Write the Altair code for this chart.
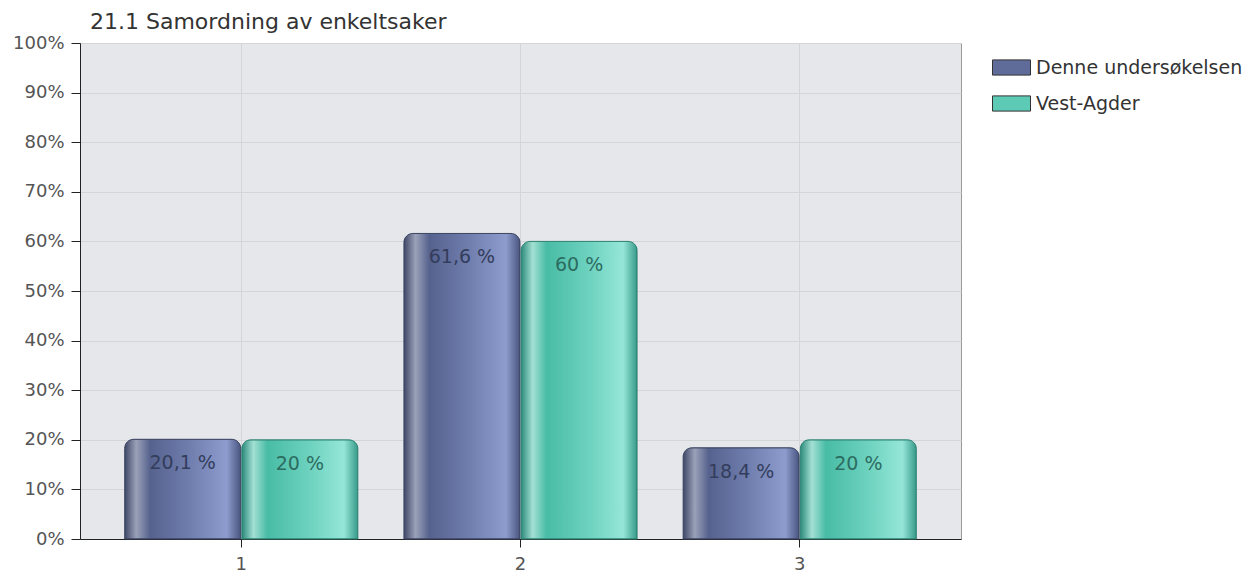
import altair as alt
import pandas as pd

categories = ["1", "2", "3"]
series_names = ["Denne undersøkelsen", "Vest-Agder"]
denne_values = [20.1, 61.6, 18.4]
vest_values = [20.0, 60.0, 20.0]
y_ticks = [0, 10, 20, 30, 40, 50, 60, 70, 80, 90, 100]

rows = []
for c, v in zip(categories, denne_values):
    rows.append({"kategori": c, "serie": series_names[0], "verdi": v})
for c, v in zip(categories, vest_values):
    rows.append({"kategori": c, "serie": series_names[1], "verdi": v})
df = pd.DataFrame(rows)

FONT = "DejaVu Sans"

blue_grad = alt.Gradient(
    gradient="linear", x1=0, x2=1, y1=0, y2=0,
    stops=[
        alt.GradientStop(color="#3f4868", offset=0.0),
        alt.GradientStop(color="#9aa1b8", offset=0.1),
        alt.GradientStop(color="#56628e", offset=0.22),
        alt.GradientStop(color="#6f7dad", offset=0.55),
        alt.GradientStop(color="#8d9ccd", offset=0.88),
        alt.GradientStop(color="#4a5580", offset=1.0),
    ],
)
green_grad = alt.Gradient(
    gradient="linear", x1=0, x2=1, y1=0, y2=0,
    stops=[
        alt.GradientStop(color="#2b8a7a", offset=0.0),
        alt.GradientStop(color="#a3e0d4", offset=0.1),
        alt.GradientStop(color="#48bca6", offset=0.22),
        alt.GradientStop(color="#6fd3c0", offset=0.6),
        alt.GradientStop(color="#95e6d8", offset=0.88),
        alt.GradientStop(color="#389a89", offset=1.0),
    ],
)

x_enc = alt.X(
    "kategori:N",
    sort=categories,
    scale=alt.Scale(paddingInner=0.165, paddingOuter=0.16),
    axis=alt.Axis(
        title=None, labelAngle=0, grid=True, bandPosition=0.5,
        gridColor="#d3d6d9", labelFontSize=18, labelColor="#555555",
        labelFont=FONT, tickSize=8, tickColor="#222222",
        domainColor="#222222", labelPadding=8,
    ),
)
xoff_enc = alt.XOffset("serie:N", sort=series_names, scale=alt.Scale(paddingInner=0.01))
y_enc = alt.Y(
    "verdi:Q",
    scale=alt.Scale(domain=[0, 100], nice=False),
    axis=alt.Axis(
        title=None, values=y_ticks, labelExpr="datum.value + '%'",
        gridColor="#d3d6d9", labelFontSize=18, labelColor="#555555",
        labelFont=FONT, tickSize=9, tickColor="#222222",
        domainColor="#222222", labelPadding=7,
    ),
)

base = alt.Chart(df)

legend_bars = base.mark_bar(cornerRadiusTopLeft=9, cornerRadiusTopRight=9).encode(
    x=x_enc, xOffset=xoff_enc, y=y_enc,
    color=alt.Color(
        "serie:N", sort=series_names,
        scale=alt.Scale(domain=series_names, range=["#5f6c9a", "#5ccab5"]),
        legend=alt.Legend(
            title=None, orient="none", legendX=912, legendY=5,
            symbolType="M-1,-0.4H1V0.4H-1Z", symbolSize=1444,
            symbolStrokeColor="#333333", symbolStrokeWidth=1,
            labelFontSize=19, labelColor="#333333", labelFont=FONT,
            labelLimit=400, rowPadding=6, labelOffset=5,
        ),
    ),
)

blue_bars = base.transform_filter(alt.datum.serie == series_names[0]).mark_bar(
    cornerRadiusTopLeft=9, cornerRadiusTopRight=9,
    fill=blue_grad, stroke="#3c4562", strokeWidth=1,
).encode(x=x_enc, xOffset=xoff_enc, y=y_enc)

green_bars = base.transform_filter(alt.datum.serie == series_names[1]).mark_bar(
    cornerRadiusTopLeft=9, cornerRadiusTopRight=9,
    fill=green_grad, stroke="#2e8273", strokeWidth=1,
).encode(x=x_enc, xOffset=xoff_enc, y=y_enc)

labels = base.transform_calculate(
    etikett="replace(format(datum.verdi, '.1~f'), '.', ',') + ' %'"
).mark_text(fontSize=19, font=FONT, baseline="middle", dy=24).encode(
    x=x_enc, xOffset=xoff_enc, y=y_enc,
    text="etikett:N",
    color=alt.condition(
        alt.datum.serie == series_names[1],
        alt.value("#2c6c61"), alt.value("#333d5c"),
    ),
)

chart = alt.layer(legend_bars, blue_bars, green_bars, labels).properties(
    width=881, height=496,
    title=alt.TitleParams(
        "21.1 Samordning av enkeltsaker", anchor="start", frame="group",
        dx=10, offset=0,
        fontSize=22, font=FONT, fontWeight="normal", color="#333333",
    ),
    autosize=alt.AutoSizeParams(type="none"),
    padding={"left": 72, "top": 35, "right": 285, "bottom": 36},
).configure_view(
    fill="#e5e7ea", stroke="#9a9a9a", strokeWidth=1,
)

chart.save("out.html", embed_options={"renderer": "svg", "actions": False})
